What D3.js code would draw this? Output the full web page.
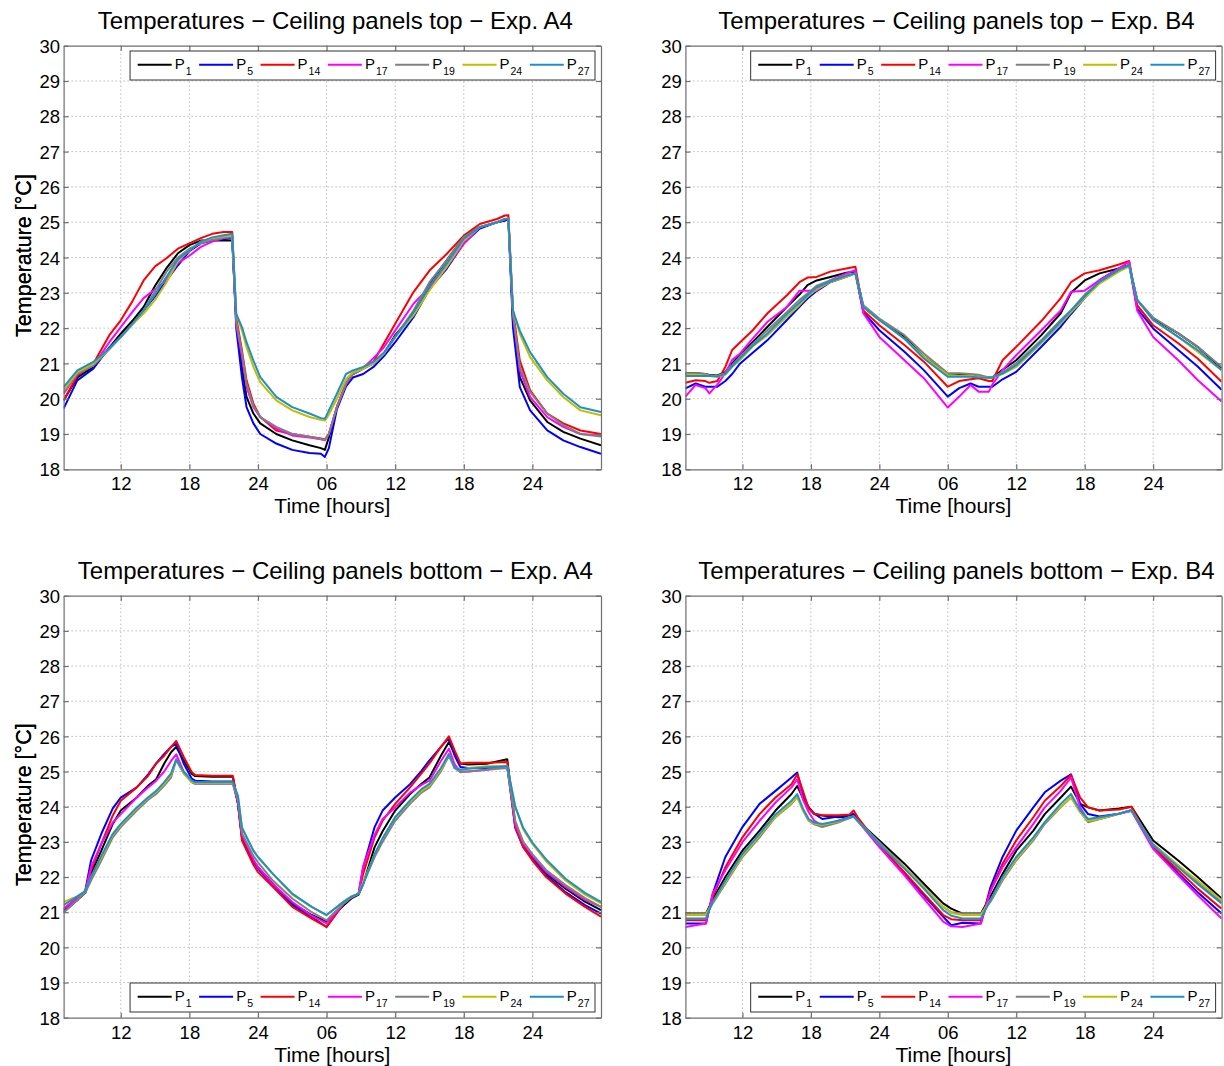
<!DOCTYPE html>
<html>
<head>
<meta charset="utf-8">
<script src="https://cdn.jsdelivr.net/npm/d3@7"></script>
<style>
  body { margin: 0; background: #fff; }
  svg { display: block; font-family: "Liberation Sans", Arial, Helvetica, sans-serif; }
</style>
</head>
<body>
<svg id="chart" width="1224" height="1066"></svg>
<script>
// ---------------- DATA ----------------
const seriesNames = ["P1", "P5", "P14", "P17", "P19", "P24", "P27"];
const seriesSubs = ["1", "5", "14", "17", "19", "24", "27"];
const seriesColors = ["#000000", "#0000ff", "#ff0000", "#ff00ff", "#808080", "#bfbf00", "#1f8fca"];

const xTickValues = [12, 18, 24, 30, 36, 42, 48];
const xTickLabels = ["12", "18", "24", "06", "12", "18", "24"];
const yTickValues = [18, 19, 20, 21, 22, 23, 24, 25, 26, 27, 28, 29, 30];

// Ceiling panels top - Exp. A4
const hoursTopA4 = [7, 8.2, 9.6, 11, 12, 13, 14, 15, 16, 17, 18, 19, 20, 21, 21.75, 22.1, 22.6, 23, 23.6, 24.2, 25.6, 27, 28.5, 29.5, 29.85, 30.2, 30.9, 31.7, 32.3, 33.2, 34.1, 35, 36, 37.6, 39, 40.5, 42, 43.4, 44.9, 45.6, 45.9, 46.3, 46.9, 47.8, 49.3, 50.7, 52.2, 54];
const topA4_P1 = [19.95, 20.6, 20.9, 21.45, 21.84, 22.2, 22.6, 23.2, 23.7, 24.12, 24.35, 24.48, 24.48, 24.48, 24.48, 22.2, 20.9, 20.05, 19.58, 19.3, 19.0, 18.82, 18.68, 18.6, 18.55, 18.9, 19.76, 20.42, 20.7, 20.85, 21.0, 21.27, 21.8, 22.4, 23.25, 23.92, 24.58, 24.86, 25.0, 25.05, 25.1, 22.2, 20.61, 19.95, 19.34, 19.06, 18.87, 18.68];
const topA4_P5 = [19.72, 20.52, 20.85, 21.45, 21.75, 22.1, 22.5, 22.9, 23.35, 23.78, 24.18, 24.4, 24.48, 24.52, 24.55, 22.0, 20.6, 19.76, 19.3, 19.0, 18.73, 18.55, 18.46, 18.44, 18.35, 18.6, 19.7, 20.35, 20.6, 20.7, 20.9, 21.2, 21.6, 22.31, 23.11, 23.68, 24.4, 24.82, 25.0, 25.05, 25.08, 22.03, 20.33, 19.67, 19.1, 18.82, 18.63, 18.44];
const topA4_P14 = [19.95, 20.65, 20.99, 21.8, 22.22, 22.75, 23.35, 23.75, 23.98, 24.25, 24.4, 24.55, 24.67, 24.72, 24.72, 22.3, 21.37, 20.52, 19.86, 19.48, 19.1, 19.0, 18.92, 18.87, 18.85, 19.0, 19.76, 20.42, 20.7, 20.85, 21.05, 21.56, 22.12, 23.02, 23.63, 24.1, 24.62, 24.95, 25.09, 25.19, 25.2, 22.5, 21.08, 20.24, 19.58, 19.3, 19.1, 19.0];
const topA4_P17 = [20.14, 20.7, 20.94, 21.6, 22.03, 22.45, 22.85, 23.1, 23.35, 23.85, 24.05, 24.3, 24.45, 24.55, 24.58, 22.1, 21.18, 20.33, 19.76, 19.48, 19.15, 18.96, 18.9, 18.85, 18.82, 19.0, 19.76, 20.45, 20.7, 20.87, 21.15, 21.45, 21.93, 22.69, 23.16, 23.73, 24.39, 24.86, 25.0, 25.08, 25.1, 22.4, 20.8, 20.05, 19.48, 19.2, 19.0, 18.96];
const topA4_P19 = [20.19, 20.7, 20.94, 21.4, 21.75, 22.1, 22.5, 23.05, 23.6, 24.0, 24.25, 24.4, 24.5, 24.56, 24.58, 22.2, 21.3, 20.43, 19.8, 19.48, 19.2, 19.0, 18.92, 18.86, 18.84, 19.0, 19.76, 20.42, 20.7, 20.85, 21.0, 21.27, 21.75, 22.5, 23.3, 23.92, 24.58, 24.86, 25.0, 25.09, 25.1, 22.4, 20.9, 20.19, 19.58, 19.25, 19.0, 18.93];
const topA4_P24 = [20.24, 20.75, 20.99, 21.42, 21.75, 22.1, 22.41, 22.8, 23.3, 23.9, 24.2, 24.45, 24.55, 24.6, 24.62, 22.4, 21.93, 21.46, 20.9, 20.47, 19.95, 19.67, 19.48, 19.4, 19.38, 19.55, 20.0, 20.55, 20.75, 20.85, 21.0, 21.27, 21.75, 22.36, 23.07, 23.73, 24.48, 24.86, 25.0, 25.09, 25.1, 22.5, 21.84, 21.18, 20.52, 20.05, 19.67, 19.53];
const topA4_P27 = [20.33, 20.8, 21.04, 21.42, 21.75, 22.12, 22.5, 22.95, 23.45, 23.95, 24.2, 24.45, 24.57, 24.63, 24.67, 22.4, 22.03, 21.6, 21.08, 20.61, 20.05, 19.76, 19.58, 19.45, 19.43, 19.67, 20.14, 20.7, 20.8, 20.9, 21.05, 21.3, 21.75, 22.45, 23.2, 23.82, 24.53, 24.86, 25.0, 25.09, 25.1, 22.5, 21.93, 21.32, 20.61, 20.14, 19.76, 19.62];

// Ceiling panels top - Exp. B4
const hoursTopB4 = [7, 7.9, 8.75, 9.1, 9.8, 10.5, 11.1, 11.8, 12.9, 14.2, 15.9, 17, 17.7, 18.5, 19.7, 21.1, 21.9, 22.6, 24, 26.2, 27.9, 30, 31, 32, 32.7, 33.6, 33.9, 34.8, 36, 38.2, 39.9, 40.8, 42, 43.3, 45, 45.9, 46.6, 48, 50.2, 51.9, 54];
const topB4_P1 = [20.72, 20.72, 20.7, 20.67, 20.66, 20.75, 21.0, 21.25, 21.6, 22.04, 22.6, 22.95, 23.22, 23.35, 23.45, 23.57, 23.6, 22.6, 22.23, 21.75, 21.19, 20.7, 20.68, 20.67, 20.62, 20.6, 20.6, 20.82, 21.09, 21.8, 22.42, 23.0, 23.35, 23.55, 23.69, 23.78, 22.8, 22.27, 21.85, 21.47, 20.86];
const topB4_P5 = [20.29, 20.43, 20.34, 20.34, 20.34, 20.5, 20.7, 21.0, 21.3, 21.66, 22.23, 22.6, 22.84, 23.05, 23.3, 23.45, 23.55, 22.45, 21.94, 21.33, 20.81, 20.06, 20.3, 20.43, 20.34, 20.34, 20.34, 20.55, 20.76, 21.47, 22.04, 22.4, 22.85, 23.36, 23.69, 23.78, 22.55, 21.99, 21.38, 20.91, 20.25];
const topB4_P14 = [20.45, 20.52, 20.5, 20.45, 20.5, 20.9, 21.38, 21.6, 21.94, 22.42, 22.93, 23.3, 23.43, 23.45, 23.6, 23.69, 23.74, 22.5, 22.08, 21.52, 21.05, 20.34, 20.5, 20.55, 20.58, 20.5, 20.5, 21.09, 21.47, 22.2, 22.85, 23.3, 23.55, 23.64, 23.8, 23.9, 22.65, 22.08, 21.57, 21.14, 20.48];
const topB4_P17 = [20.06, 20.39, 20.3, 20.15, 20.4, 20.72, 21.1, 21.28, 21.7, 22.18, 22.6, 23.06, 23.06, 23.06, 23.36, 23.55, 23.64, 22.42, 21.75, 21.09, 20.58, 19.75, 20.06, 20.39, 20.2, 20.2, 20.4, 20.81, 21.23, 21.94, 22.5, 23.03, 23.06, 23.36, 23.69, 23.88, 22.5, 21.75, 21.09, 20.53, 19.92];
const topB4_P19 = [20.72, 20.72, 20.7, 20.66, 20.65, 20.72, 20.95, 21.2, 21.55, 21.94, 22.46, 22.8, 22.98, 23.2, 23.35, 23.5, 23.55, 22.65, 22.27, 21.8, 21.28, 20.72, 20.72, 20.7, 20.68, 20.6, 20.6, 20.75, 21.0, 21.66, 22.23, 22.5, 22.95, 23.31, 23.65, 23.78, 22.8, 22.3, 21.85, 21.47, 20.9];
const topB4_P24 = [20.68, 20.68, 20.66, 20.65, 20.62, 20.68, 20.9, 21.1, 21.48, 21.8, 22.32, 22.65, 22.89, 23.1, 23.3, 23.45, 23.55, 22.6, 22.23, 21.7, 21.19, 20.67, 20.65, 20.65, 20.62, 20.6, 20.6, 20.7, 20.9, 21.57, 22.13, 22.45, 22.85, 23.26, 23.6, 23.75, 22.8, 22.23, 21.75, 21.33, 20.81];
const topB4_P27 = [20.64, 20.64, 20.64, 20.64, 20.63, 20.7, 20.92, 21.15, 21.5, 21.85, 22.4, 22.72, 22.93, 23.15, 23.32, 23.48, 23.55, 22.6, 22.23, 21.7, 21.14, 20.62, 20.62, 20.62, 20.6, 20.6, 20.6, 20.72, 20.95, 21.62, 22.18, 22.5, 22.9, 23.31, 23.65, 23.78, 22.8, 22.23, 21.75, 21.38, 20.81];

// Ceiling panels bottom - Exp. A4
const hoursBotA4 = [7, 8.2, 8.9, 9.4, 10.3, 11.3, 12, 13.4, 14.4, 15.1, 15.8, 16.4, 16.85, 17.5, 18.2, 18.5, 20, 21.8, 22.25, 22.6, 23.6, 24, 25.3, 27, 28.7, 30, 31.5, 32.2, 32.8, 33.2, 34.2, 34.9, 36, 37.3, 38.3, 39, 40, 40.7, 41.2, 41.7, 42.4, 44, 45.8, 46.5, 47.2, 48, 49.2, 50.9, 52.6, 54];
const botA4_P1 = [21.05, 21.35, 21.55, 22.1, 22.75, 23.51, 23.89, 24.26, 24.6, 24.78, 25.23, 25.55, 25.7, 25.32, 24.94, 24.87, 24.85, 24.85, 24.1, 23.13, 22.45, 22.28, 21.81, 21.25, 20.92, 20.73, 21.2, 21.4, 21.5, 21.8, 22.85, 23.3, 23.89, 24.36, 24.65, 24.83, 25.45, 25.84, 25.5, 25.23, 25.2, 25.22, 25.35, 23.5, 22.9, 22.56, 22.1, 21.67, 21.3, 21.06];
const botA4_P5 = [21.0, 21.35, 21.62, 22.47, 23.23, 23.95, 24.26, 24.55, 24.92, 25.23, 25.5, 25.7, 25.79, 25.23, 24.8, 24.74, 24.72, 24.72, 24.08, 23.13, 22.45, 22.24, 21.76, 21.2, 20.86, 20.58, 21.25, 21.43, 21.53, 22.28, 23.42, 23.89, 24.26, 24.64, 25.02, 25.32, 25.7, 25.95, 25.45, 25.13, 25.1, 25.1, 25.15, 23.4, 22.85, 22.52, 22.05, 21.57, 21.2, 20.96];
const botA4_P14 = [21.1, 21.4, 21.6, 22.19, 22.94, 23.75, 24.17, 24.55, 24.88, 25.23, 25.45, 25.7, 25.87, 25.42, 24.99, 24.9, 24.88, 24.88, 24.08, 23.04, 22.35, 22.14, 21.72, 21.15, 20.82, 20.58, 21.25, 21.43, 21.53, 22.09, 23.13, 23.6, 24.08, 24.55, 24.95, 25.23, 25.7, 26.0, 25.6, 25.23, 25.25, 25.25, 25.27, 23.42, 22.85, 22.47, 22.0, 21.53, 21.15, 20.87];
const botA4_P17 = [21.1, 21.4, 21.6, 22.28, 22.94, 23.55, 23.79, 24.26, 24.55, 24.74, 25.0, 25.3, 25.49, 25.0, 24.7, 24.66, 24.66, 24.66, 24.15, 23.2, 22.5, 22.28, 21.8, 21.29, 20.9, 20.68, 21.25, 21.43, 21.53, 22.3, 23.2, 23.65, 23.98, 24.4, 24.62, 24.74, 25.3, 25.65, 25.2, 25.0, 25.0, 25.05, 25.15, 23.5, 22.95, 22.6, 22.15, 21.72, 21.35, 21.15];
const botA4_P19 = [21.0, 21.35, 21.55, 21.9, 22.47, 23.13, 23.42, 23.89, 24.2, 24.36, 24.6, 24.83, 25.32, 24.95, 24.7, 24.65, 24.65, 24.65, 24.2, 23.25, 22.6, 22.42, 21.9, 21.39, 21.0, 20.77, 21.25, 21.43, 21.53, 21.81, 22.57, 23.0, 23.6, 24.08, 24.4, 24.55, 25.0, 25.45, 25.1, 24.98, 25.0, 25.05, 25.1, 23.6, 23.0, 22.65, 22.2, 21.77, 21.4, 21.15];
const botA4_P24 = [21.29, 21.45, 21.6, 22.0, 22.55, 23.2, 23.48, 23.95, 24.25, 24.42, 24.65, 24.9, 25.35, 24.95, 24.7, 24.68, 24.68, 24.68, 24.3, 23.4, 22.75, 22.57, 22.09, 21.5, 21.15, 20.92, 21.3, 21.45, 21.53, 21.85, 22.65, 23.1, 23.7, 24.15, 24.45, 24.6, 25.05, 25.5, 25.1, 25.05, 25.1, 25.15, 25.15, 24.0, 23.35, 22.94, 22.45, 21.9, 21.5, 21.25];
const botA4_P27 = [21.2, 21.45, 21.6, 22.0, 22.6, 23.23, 23.51, 23.98, 24.27, 24.45, 24.7, 24.95, 25.35, 25.0, 24.75, 24.7, 24.7, 24.7, 24.3, 23.4, 22.75, 22.57, 22.09, 21.53, 21.15, 20.92, 21.3, 21.45, 21.53, 21.8, 22.65, 23.1, 23.7, 24.18, 24.5, 24.65, 25.1, 25.5, 25.1, 25.05, 25.08, 25.12, 25.15, 24.0, 23.4, 22.98, 22.5, 21.95, 21.55, 21.29];

// Ceiling panels bottom - Exp. B4
const hoursBotB4 = [7, 8.8, 9.4, 10.5, 12, 13.5, 14.9, 16.3, 16.8, 17.3, 17.8, 18.3, 19, 20.4, 21.4, 21.75, 22.1, 24, 26.2, 27.9, 29.6, 30.3, 31.3, 32.9, 33.75, 34.8, 36, 37.5, 38.5, 39.9, 40.8, 41.6, 42.3, 43.3, 45, 46.1, 48, 50.2, 51.9, 54];
const botB4_P1 = [20.96, 20.96, 21.36, 22.0, 22.75, 23.32, 23.89, 24.36, 24.59, 24.25, 23.98, 23.79, 23.75, 23.7, 23.72, 23.75, 23.6, 23.04, 22.38, 21.81, 21.25, 21.1, 20.96, 20.96, 21.45, 22.09, 22.75, 23.32, 23.79, 24.26, 24.57, 24.08, 23.98, 23.89, 23.95, 24.0, 23.04, 22.47, 22.0, 21.39];
const botB4_P5 = [20.68, 20.68, 21.53, 22.57, 23.42, 24.08, 24.45, 24.83, 24.97, 24.36, 23.98, 23.8, 23.65, 23.72, 23.75, 23.8, 23.65, 22.9, 22.1, 21.48, 20.87, 20.63, 20.7, 20.68, 21.72, 22.57, 23.32, 23.98, 24.41, 24.74, 24.92, 24.08, 23.79, 23.72, 23.8, 23.9, 22.85, 22.1, 21.57, 20.96];
const botB4_P14 = [20.77, 20.77, 21.43, 22.28, 23.13, 23.79, 24.26, 24.64, 24.92, 24.45, 23.95, 23.8, 23.76, 23.76, 23.78, 23.89, 23.7, 22.9, 22.14, 21.53, 20.92, 20.8, 20.77, 20.77, 21.62, 22.38, 23.04, 23.7, 24.17, 24.59, 24.9, 24.26, 23.98, 23.89, 23.92, 24.0, 22.85, 22.19, 21.67, 21.1];
const botB4_P17 = [20.58, 20.68, 21.53, 22.19, 22.99, 23.6, 24.12, 24.55, 24.78, 24.2, 23.85, 23.6, 23.46, 23.6, 23.7, 23.72, 23.6, 22.85, 22.05, 21.39, 20.73, 20.6, 20.58, 20.68, 21.6, 22.28, 22.85, 23.51, 23.98, 24.45, 24.83, 23.98, 23.6, 23.65, 23.8, 23.88, 22.8, 22.05, 21.48, 20.82];
const botB4_P19 = [20.96, 20.96, 21.25, 21.81, 22.57, 23.13, 23.7, 24.08, 24.28, 23.9, 23.6, 23.5, 23.42, 23.55, 23.68, 23.72, 23.6, 22.99, 22.28, 21.72, 21.15, 21.0, 20.96, 20.96, 21.3, 21.9, 22.47, 23.04, 23.51, 23.98, 24.26, 23.85, 23.56, 23.65, 23.8, 23.9, 22.94, 22.33, 21.86, 21.29];
const botB4_P24 = [20.92, 20.92, 21.28, 21.85, 22.6, 23.18, 23.72, 24.1, 24.27, 23.9, 23.62, 23.52, 23.48, 23.58, 23.7, 23.72, 23.6, 22.94, 22.28, 21.72, 21.15, 20.98, 20.92, 20.92, 21.35, 21.95, 22.5, 23.08, 23.55, 24.0, 24.27, 23.85, 23.6, 23.65, 23.8, 23.9, 22.9, 22.33, 21.9, 21.34];
const botB4_P27 = [20.82, 20.82, 21.3, 21.9, 22.66, 23.23, 23.78, 24.17, 24.36, 23.95, 23.65, 23.55, 23.51, 23.6, 23.7, 23.72, 23.6, 22.94, 22.24, 21.67, 21.06, 20.9, 20.82, 20.82, 21.35, 22.0, 22.57, 23.13, 23.56, 24.08, 24.36, 23.9, 23.65, 23.7, 23.8, 23.9, 22.9, 22.28, 21.8, 21.25];

// ---------------- CHART ----------------
const panels = [
  { title: "Temperatures \u2212 Ceiling panels top \u2212 Exp. A4", hours: hoursTopA4,
    series: [topA4_P1, topA4_P5, topA4_P14, topA4_P17, topA4_P19, topA4_P24, topA4_P27],
    left: 63.6, right: 601, top: 45.7, bottom: 469.3, legendAt: "top" },
  { title: "Temperatures \u2212 Ceiling panels top \u2212 Exp. B4", hours: hoursTopB4,
    series: [topB4_P1, topB4_P5, topB4_P14, topB4_P17, topB4_P19, topB4_P24, topB4_P27],
    left: 685.4, right: 1221.6, top: 45.7, bottom: 469.3, legendAt: "top" },
  { title: "Temperatures \u2212 Ceiling panels bottom \u2212 Exp. A4", hours: hoursBotA4,
    series: [botA4_P1, botA4_P5, botA4_P14, botA4_P17, botA4_P19, botA4_P24, botA4_P27],
    left: 63.6, right: 601, top: 595.7, bottom: 1017.7, legendAt: "bottom" },
  { title: "Temperatures \u2212 Ceiling panels bottom \u2212 Exp. B4", hours: hoursBotB4,
    series: [botB4_P1, botB4_P5, botB4_P14, botB4_P17, botB4_P19, botB4_P24, botB4_P27],
    left: 685.4, right: 1221.6, top: 595.7, bottom: 1017.7, legendAt: "bottom" }
];

const svg = d3.select("#chart");
const FONT = '"Liberation Sans", Arial, Helvetica, sans-serif';
const axisColor = "#6e6e6e";

panels.forEach((p, pi) => {
  const g = svg.append("g");
  const x = d3.scaleLinear().domain([7, 54]).range([p.left, p.right]);
  const y = d3.scaleLinear().domain([18, 30]).range([p.bottom, p.top]);

  // grid
  g.append("g").selectAll("line").data(xTickValues).join("line")
    .attr("x1", d => x(d)).attr("x2", d => x(d))
    .attr("y1", p.top).attr("y2", p.bottom)
    .attr("stroke", "#9a9a9a").attr("stroke-width", 1).attr("stroke-dasharray", "1,3");
  g.append("g").selectAll("line").data(yTickValues.slice(1, -1)).join("line")
    .attr("x1", p.left).attr("x2", p.right)
    .attr("y1", d => y(d)).attr("y2", d => y(d))
    .attr("stroke", "#9a9a9a").attr("stroke-width", 1).attr("stroke-dasharray", "1,3");

  // clip
  const clipId = "clip" + pi;
  svg.append("clipPath").attr("id", clipId).append("rect")
    .attr("x", p.left).attr("y", p.top).attr("width", p.right - p.left).attr("height", p.bottom - p.top);

  // lines
  const line = d3.line().x((d, i) => x(p.hours[i])).y(d => y(d));
  const lg = g.append("g").attr("clip-path", `url(#${clipId})`);
  p.series.forEach((vals, k) => {
    lg.append("path").attr("d", line(vals))
      .attr("fill", "none").attr("stroke", seriesColors[k])
      .attr("stroke-width", 2).attr("stroke-linejoin", "round");
  });

  // axes
  const styleAxis = sel => {
    sel.attr("font-family", FONT).attr("font-size", 18.5);
    sel.selectAll("path.domain").attr("stroke", axisColor).attr("stroke-width", 1.2);
    sel.selectAll(".tick line").attr("stroke", axisColor).attr("stroke-width", 1.2);
    sel.selectAll(".tick text").attr("fill", "#000");
  };
  g.append("g").attr("transform", `translate(0,${p.bottom})`)
    .call(d3.axisBottom(x).tickValues(xTickValues).tickFormat((d, i) => xTickLabels[i])
      .tickSizeInner(-5).tickSizeOuter(0).tickPadding(8))
    .call(styleAxis);
  g.append("g").attr("transform", `translate(0,${p.top})`)
    .call(d3.axisTop(x).tickValues(xTickValues).tickFormat("")
      .tickSizeInner(-5).tickSizeOuter(0))
    .call(styleAxis);
  g.append("g").attr("transform", `translate(${p.left},0)`)
    .call(d3.axisLeft(y).tickValues(yTickValues).tickFormat(d3.format("d"))
      .tickSizeInner(-5).tickSizeOuter(0).tickPadding(3.5))
    .call(styleAxis)
    .selectAll(".tick text").attr("dy", "0.36em");
  g.append("g").attr("transform", `translate(${p.right},0)`)
    .call(d3.axisRight(y).tickValues(yTickValues).tickFormat("")
      .tickSizeInner(-5).tickSizeOuter(0))
    .call(styleAxis);

  // title
  const cx = (p.left + p.right) / 2;
  g.append("text").attr("x", cx + 3).attr("y", p.top - 16.5)
    .attr("text-anchor", "middle").attr("font-family", FONT).attr("font-size", 24)
    .attr("fill", "#000").text(p.title);

  // axis labels
  g.append("text").attr("x", cx).attr("y", p.bottom + 44)
    .attr("text-anchor", "middle").attr("font-family", FONT).attr("font-size", 21)
    .attr("fill", "#000").text("Time [hours]");
  g.append("text")
    .attr("transform", `translate(31,${(p.top + p.bottom) / 2 - 2}) rotate(-90)`)
    .attr("text-anchor", "middle").attr("font-family", FONT).attr("font-size", 21.5)
    .attr("fill", "#000").text("Temperature [\u00B0C]");

  // legend
  const leg = g.append("g");
  const box = leg.append("rect");
  const items = leg.append("g");
  let lx = 7.6;
  const gap = 7.6;
  seriesNames.forEach((name, k) => {
    const it = items.append("g").attr("transform", `translate(${lx},0)`);
    it.append("line").attr("x1", 0).attr("x2", 34).attr("y1", 13.7).attr("y2", 13.7)
      .attr("stroke", seriesColors[k]).attr("stroke-width", 2);
    const t = it.append("text").attr("x", 37).attr("y", 17.7)
      .attr("font-family", FONT).attr("font-size", 15).attr("fill", "#000");
    t.append("tspan").text("P");
    t.append("tspan").attr("dy", 6.6).attr("dx", 1).attr("font-size", 10.5).text(seriesSubs[k]);
    const tw = t.node().getComputedTextLength() + 1;
    lx += 37 + tw + gap;
  });
  const legW = lx - gap + 5.5;
  const legH = 29;
  const legX = p.right - 6 - legW;
  const legY = p.legendAt === "top" ? p.top + 5.3 : p.bottom - 5.7 - legH;
  leg.attr("transform", `translate(${legX},${legY})`);
  box.attr("x", 0).attr("y", 0).attr("width", legW).attr("height", legH)
    .attr("fill", "#fff").attr("stroke", "#333").attr("stroke-width", 1);
});
</script>
</body>
</html>
